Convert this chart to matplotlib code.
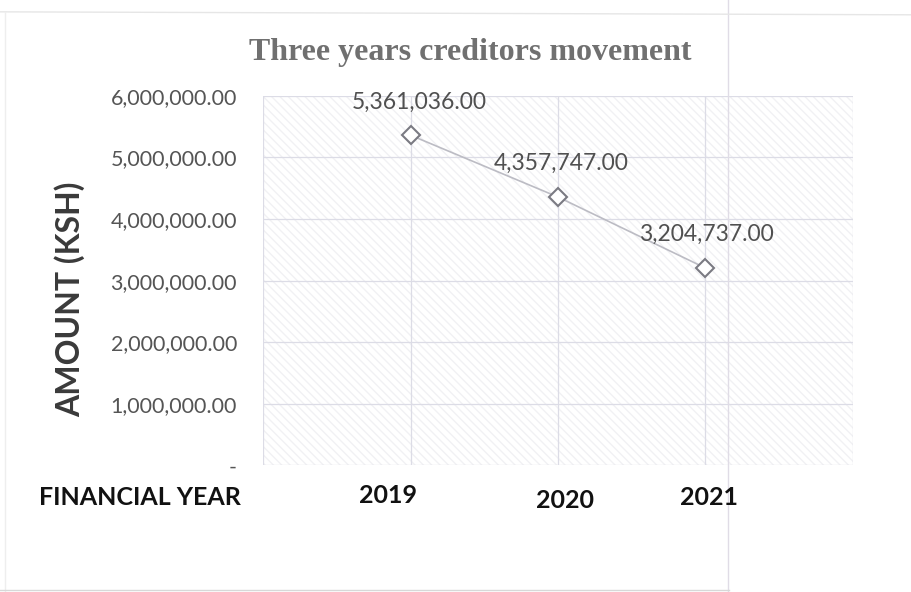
import matplotlib
matplotlib.use("Agg")
import matplotlib.pyplot as plt
from matplotlib.patches import Rectangle
from matplotlib.lines import Line2D

# Data
years = ["2019", "2020", "2021"]
amounts = [5361036.00, 4357747.00, 3204737.00]
y_ticks = [0, 1000000, 2000000, 3000000, 4000000, 5000000, 6000000]
y_tick_labels = ["-", "1,000,000.00", "2,000,000.00", "3,000,000.00",
                 "4,000,000.00", "5,000,000.00", "6,000,000.00"]
title = "Three years creditors movement"
y_label = "AMOUNT (KSH)"
x_header = "FINANCIAL YEAR"

fig = plt.figure(figsize=(9.11, 5.92), dpi=100)
fig.patch.set_facecolor("white")

ax = fig.add_axes([0.289, 0.214, 0.647, 0.624])
ax.set_facecolor("white")

# faint diagonal hatching across the plot area
hatch_bg = Rectangle((0, 0), 1, 1, transform=ax.transAxes, facecolor="none",
                     edgecolor="#f1f1f4", hatch="\\\\\\\\", linewidth=0, zorder=0)
ax.add_patch(hatch_bg)

x = [1, 2, 3]
ax.set_xlim(0, 4)
ax.set_ylim(0, 6000000)
ax.set_xticks([0, 1, 2, 3, 4])
ax.set_xticklabels([])
ax.set_yticks(y_ticks)
ax.set_yticklabels(y_tick_labels, fontfamily="Lato", fontsize=15.5, color="#555555")
ax.tick_params(axis="both", length=0)
ax.tick_params(axis="y", pad=19)
ax.grid(True, color="#dcdce6", linewidth=0.9, zorder=1)
for s in ax.spines.values():
    s.set_visible(False)

ax.plot(x, amounts, color="#bcbcc4", linewidth=1.2, marker="D", markersize=9,
        markerfacecolor="white", markeredgecolor="#7a7a82", markeredgewidth=1.5, zorder=3)

label_dx = [6, 2, 1]
for xi, v, dx in zip(x, amounts, label_dx):
    ax.annotate(f"{v:,.2f}", (xi, v), xytext=(dx, 24), textcoords="offset points",
                ha="center", va="center", fontfamily="Lato", fontsize=16.5,
                color="#505050", zorder=4)

fig.text(0.516, 0.912, title, ha="center", va="center", fontfamily="Liberation Serif",
         fontweight="bold", fontsize=23, color="#707070")

fig.text(0.077, 0.495, y_label, ha="center", va="center", rotation=90,
         fontfamily="Lato", fontweight="bold", fontsize=23, color="#3a3a3a")

# year row beneath the chart
row_items = [(x_header, 0.154, 0.16), (years[0], 0.426, 0.163),
             (years[1], 0.620, 0.155), (years[2], 0.778, 0.16)]
for txt, fx, fy in row_items:
    fig.text(fx, fy, txt, ha="center", va="center", fontfamily="Lato",
             fontweight="bold", fontsize=18, color="#111111")

# page rules
fig.add_artist(Line2D([0.799, 0.799], [0.0, 1.0], color="#e0dce6", linewidth=1.0))
fig.add_artist(Line2D([0.0, 1.0], [0.98, 0.975], color="#e6e6e6", linewidth=1.0))
fig.add_artist(Line2D([0.006, 0.006], [0.0, 0.98], color="#eeeeee", linewidth=1.0))
fig.add_artist(Line2D([0.0, 0.8], [0.004, 0.004], color="#d8d8d8", linewidth=1.0))

fig.savefig("out.png", dpi=100, facecolor="white")
